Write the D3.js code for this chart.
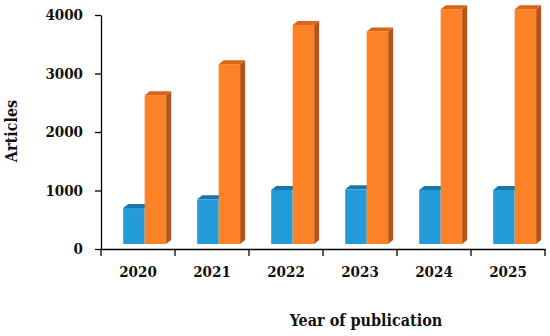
<!DOCTYPE html>
<html><head><meta charset="utf-8">
<script src="https://cdn.jsdelivr.net/npm/d3@7"></script>
<style>body{margin:0;background:#fff}svg{display:block}</style>
</head><body>
<svg id="c" width="550" height="336"></svg>
<script>
const years = ["2020","2021","2022","2023","2024","2025"];
const seriesA = [700, 850, 1010, 1020, 1010, 1010];   // blue
const seriesB = [2630, 3160, 3830, 3720, 4100, 4100]; // orange
const yTicks = [0, 1000, 2000, 3000, 4000];

const svg = d3.select("#c");
const font = "'DejaVu Serif Condensed', 'DejaVu Serif', serif";
const x = d3.scaleBand().domain(years).range([101, 545]).padding(0);
const y = d3.scaleLinear().domain([0, 4000]).range([249, 15]);

const dx = 5, dy = -4, floor = 5;
const bw = x.bandwidth() * 0.29;
const off = x.bandwidth() * 0.3;

const colors = {
  a: {front: "#229bd8", top: "#1a78a8", side: "#17678f"},
  b: {front: "#fd8126", top: "#d9651b", side: "#b5541a"}
};

function bar(g, x0, v, c, showSide) {
  const top = y(v), bot = y(0) - floor, x1 = x0 + bw;
  if (showSide) {
    g.append("path").attr("d", `M${x1},${top}L${x1+dx},${top+dy}L${x1+dx},${bot+dy}L${x1},${bot}Z`).attr("fill", c.side);
  }
  g.append("path").attr("d", `M${x0},${top}L${x1},${top}L${x1+dx},${top+dy}L${x0+dx},${top+dy}Z`).attr("fill", c.top);
  g.append("rect").attr("x", x0).attr("y", top).attr("width", bw).attr("height", bot - top).attr("fill", c.front);
}

const g = svg.append("g");
years.forEach((yr, i) => {
  const x0 = x(yr) + off;
  bar(g, x0, seriesA[i], colors.a, false);
  bar(g, x0 + bw, seriesB[i], colors.b, true);
});

// axes
const yAxis = d3.axisLeft(y).tickValues(yTicks).tickFormat(d3.format("d")).tickSize(6).tickSizeOuter(0).tickPadding(12);
const ya = svg.append("g").attr("transform", "translate(101,0)").call(yAxis);
ya.select(".domain").attr("stroke", "#000").attr("stroke-width", 1.3);
ya.selectAll(".tick line").attr("stroke", "#000").attr("stroke-width", 1.3);
ya.selectAll("text").attr("font-family", font).attr("font-weight", "bold").attr("font-size", 15).attr("fill", "#111");

const xAxis = d3.axisBottom(x).tickSize(0).tickPadding(17);
const xa = svg.append("g").attr("transform", "translate(0,249)").call(xAxis);
xa.select(".domain").attr("stroke", "#000").attr("stroke-width", 1.3);
xa.selectAll("text").attr("font-family", font).attr("font-weight", "bold").attr("font-size", 15).attr("fill", "#111");
// category boundary ticks
const bounds = years.map(d => x(d)).concat([x(years[years.length-1]) + x.bandwidth()]);
xa.selectAll(".bt").data(bounds).enter().append("line")
  .attr("x1", d => d).attr("x2", d => d).attr("y1", 0).attr("y2", 7)
  .attr("stroke", "#000").attr("stroke-width", 1.3);

svg.append("text").attr("x", 366).attr("y", 326).attr("text-anchor", "middle")
  .attr("font-family", font).attr("font-weight", "bold").attr("font-size", 16).attr("fill", "#111")
  .text("Year of publication");
svg.append("text").attr("transform", "translate(17,131) rotate(-90)").attr("text-anchor", "middle")
  .attr("font-family", font).attr("font-weight", "bold").attr("font-size", 16).attr("fill", "#111")
  .text("Articles");
</script>
</body></html>
